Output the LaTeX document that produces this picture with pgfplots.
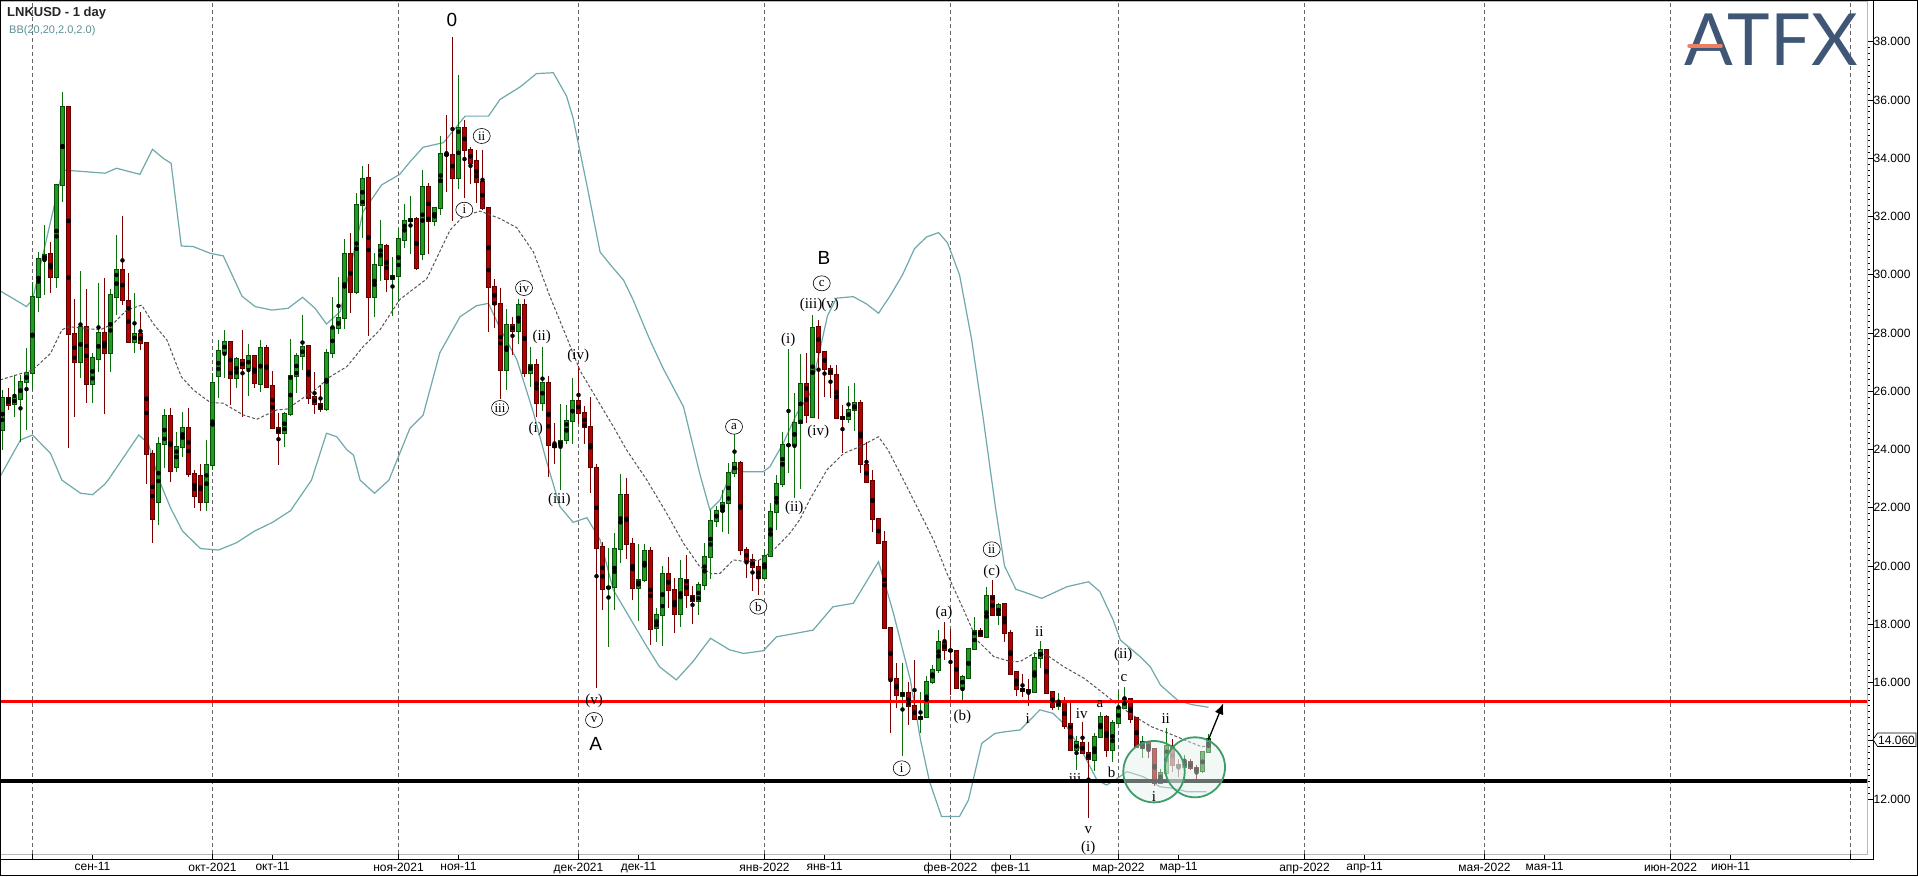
\documentclass[border=0pt]{standalone}
\usepackage{fontspec}
\setmainfont{Liberation Sans}
\newfontfamily\wavefont{Liberation Serif}
\newfontfamily\logofont{Lato}
\usepackage{pgfplots}
\usepackage{pgfplotstable}
\pgfplotsset{compat=1.18}
\usetikzlibrary{shapes.geometric,arrows.meta}

\definecolor{gfill}{HTML}{1E9E1E}
\definecolor{gline}{HTML}{0A4D0A}
\definecolor{gwick}{HTML}{0B6E0B}
\definecolor{rfill}{HTML}{B40000}
\definecolor{rline}{HTML}{5E0000}
\definecolor{rwick}{HTML}{7A0000}
\definecolor{bband}{HTML}{6FA9AC}
\definecolor{bmid}{HTML}{555555}
\definecolor{logoc}{HTML}{3F5676}
\definecolor{logoor}{HTML}{EE8062}
\definecolor{circ}{HTML}{3E9C68}

% day 0 = 1 Oct 2021; columns: open high low close
\pgfplotstableread{
d o h l c
-35 24.67 26.05 23.99 25.76
-33 25.57 26.56 25.13 25.76
-32 25.72 26.56 24.27 26.33
-31 26.33 27.48 24.67 26.62
-30 26.62 29.77 26.05 29.25
-29 29.25 30.80 28.74 30.53
-28 30.53 31.71 29.31 30.67
-26 29.94 33.10 29.54 33.07
-25 33.07 36.27 32.51 35.75
-22 27.02 30.14 26.45 28.20
-20 26.24 27.30 25.59 27.13
-19 27.10 29.71 26.68 27.99
-17 27.30 29.50 26.68 29.30
-16 29.25 31.37 28.62 30.15
-13 27.71 29.37 27.30 27.96
-9 22.20 24.44 21.40 24.18
-8 24.18 25.38 23.36 25.16
-6 23.41 24.62 23.24 24.08
-5 24.08 25.30 23.75 24.75
-1 22.20 24.33 21.90 23.46
0 23.46 26.62 23.30 26.27
1 26.54 27.76 25.78 27.39
2 27.36 28.11 26.47 27.68
4 26.47 27.19 26.10 27.10
6 26.79 27.61 25.85 27.21
8 26.24 27.76 25.99 27.48
12 24.56 25.30 24.10 25.21
13 25.21 27.79 25.15 26.53
14 26.53 27.30 25.95 27.21
15 27.21 28.62 26.73 27.51
19 25.38 27.44 25.34 27.30
20 27.30 29.23 27.16 28.16
21 28.16 29.91 27.96 28.51
22 28.51 31.22 28.13 30.70
24 29.40 32.80 29.35 32.39
25 32.39 33.74 31.25 33.28
27 29.25 30.76 28.56 30.33
28 30.33 31.87 29.80 31.01
30 29.85 30.60 28.60 29.97
31 29.97 31.60 29.08 31.22
32 31.21 32.43 30.93 31.85
33 31.85 32.69 30.70 31.90
35 30.70 33.61 30.52 33.03
37 31.85 32.34 31.67 32.31
38 32.31 34.77 32.05 34.15
41 33.34 36.87 32.96 35.04
49 26.72 28.82 26.03 28.27
51 28.07 29.17 27.63 28.97
53 26.64 27.51 26.15 26.92
55 25.60 27.53 25.34 26.27
58 24.14 25.57 22.62 24.31
59 24.34 25.54 24.19 24.98
60 24.98 26.45 24.19 25.66
66 19.23 20.61 17.23 19.29
67 19.29 21.12 18.49 20.57
68 20.57 23.15 20.12 22.44
71 19.23 20.75 18.12 19.52
72 19.52 20.75 19.46 20.53
74 17.86 18.55 17.40 18.32
75 18.32 20.00 17.25 19.72
78 18.34 20.21 17.92 19.54
81 18.80 19.46 18.32 19.35
82 19.35 20.78 19.18 20.30
83 20.30 21.92 19.56 21.55
84 21.55 22.06 21.35 21.89
85 21.89 22.61 21.18 22.18
86 22.18 23.55 21.09 23.18
87 23.18 24.79 23.07 23.55
92 19.58 20.57 19.54 20.34
93 20.34 22.18 20.32 21.84
94 21.84 23.13 21.24 22.82
95 22.82 24.62 22.72 24.16
96 24.14 27.44 23.21 24.16
97 24.14 25.93 22.33 24.90
98 24.90 27.28 22.63 26.24
100 25.13 28.62 25.07 28.16
106 25.04 26.18 24.92 25.36
107 25.36 26.27 24.62 25.59
115 15.54 16.68 13.47 15.65
118 14.74 15.69 14.26 14.83
119 14.80 16.24 14.79 16.01
120 16.01 16.60 15.95 16.43
121 16.43 17.80 16.32 17.38
125 15.82 16.26 15.29 16.20
126 16.17 17.17 16.14 17.15
127 17.15 18.26 17.12 17.77
129 17.57 19.29 17.52 18.97
131 18.32 18.74 17.97 18.66
137 15.66 17.06 15.63 16.83
138 16.83 17.44 16.49 17.12
141 15.19 15.63 15.06 15.34
144 13.68 14.16 13.00 13.95
147 13.34 14.26 12.97 14.12
148 14.12 15.00 14.08 14.83
150 13.68 14.71 13.28 14.62
151 14.60 15.72 14.57 15.14
152 15.14 15.83 15.08 15.43
155 13.74 14.16 13.40 13.95
158 12.54 13.02 12.52 12.88
159 12.88 14.43 12.82 13.82
162 13.11 13.52 13.11 13.26
165 12.96 13.65 12.88 13.60
166 13.60 14.22 13.58 14.06
}\upcandles

\pgfplotstableread{
d o h l c
-34 25.76 26.10 25.36 25.53
-27 30.72 31.14 29.37 29.94
-24 35.75 35.75 24.06 27.96
-23 27.97 29.17 25.13 27.02
-21 28.20 29.50 25.61 26.24
-18 27.99 29.88 25.21 27.30
-15 30.15 32.02 28.97 29.14
-14 29.10 30.05 27.65 27.68
-12 27.96 28.71 27.42 27.67
-11 27.65 27.71 22.80 23.84
-10 23.84 24.00 20.80 21.60
-7 25.16 25.44 22.90 23.26
-4 24.75 25.42 23.07 23.15
-3 23.15 23.30 22.00 22.40
-2 23.10 23.50 21.90 22.20
3 27.68 27.73 25.53 26.47
5 27.08 28.11 25.13 26.79
7 27.21 27.25 26.10 26.27
9 27.48 27.59 26.10 26.16
10 26.17 26.70 24.70 24.73
11 24.73 25.24 23.47 24.56
16 27.56 27.60 25.55 25.76
17 25.79 26.66 25.21 25.57
18 25.57 26.22 25.29 25.38
23 30.70 31.43 28.68 29.40
26 33.31 33.80 27.91 29.25
29 30.99 31.05 29.42 29.85
34 31.90 32.00 30.17 30.24
36 33.03 33.15 30.70 31.85
39 34.15 35.50 32.85 34.10
40 34.12 38.17 31.85 33.34
42 35.04 35.30 32.65 34.30
43 34.30 34.38 33.11 33.84
44 33.91 34.30 32.47 33.19
45 33.19 34.30 32.23 32.28
46 32.28 32.30 28.02 29.58
47 29.58 29.86 28.17 29.01
48 29.01 29.55 25.75 26.72
50 28.27 28.56 27.25 28.07
52 28.97 29.17 26.49 26.64
54 26.92 27.10 25.11 25.60
56 26.27 26.53 23.07 24.14
57 24.14 24.92 23.50 24.09
61 25.66 26.87 24.88 25.26
62 25.26 25.49 24.19 24.77
63 24.77 25.80 22.50 23.39
64 23.37 23.50 15.80 20.63
65 20.66 20.81 18.48 19.21
69 22.44 23.01 20.23 20.75
70 20.75 20.97 18.83 19.23
73 20.53 20.67 17.29 17.83
76 19.72 20.32 18.55 19.18
77 19.18 19.60 17.71 18.34
79 19.52 20.38 18.57 19.01
80 18.97 19.33 18.00 18.80
88 23.55 23.62 20.38 20.55
89 20.55 20.67 19.58 20.19
90 20.19 20.41 19.15 19.96
91 19.96 20.21 19.01 19.58
99 26.24 27.30 24.90 25.19
101 28.20 28.45 25.04 27.36
102 27.36 27.40 25.82 26.76
103 26.76 26.90 25.76 26.58
104 26.56 26.90 25.04 25.07
105 25.13 25.53 23.87 25.04
108 25.59 25.70 23.21 23.49
109 23.47 24.27 22.88 22.90
110 22.92 23.30 21.18 21.60
111 21.60 21.62 20.78 20.80
112 20.81 21.20 17.86 17.88
113 17.88 17.90 14.26 16.11
114 16.11 16.66 15.11 15.57
116 15.63 16.03 14.54 15.19
117 15.19 16.77 14.71 14.74
122 17.35 18.07 16.77 17.12
123 17.12 17.84 15.57 17.08
124 17.08 17.12 15.80 15.82
128 17.77 17.86 17.57 17.60
130 18.97 19.52 18.28 18.32
132 18.70 18.74 17.40 17.71
133 17.69 17.80 16.26 16.29
134 16.35 16.35 15.54 15.77
135 15.77 16.29 15.51 15.72
136 15.74 16.11 15.19 15.66
139 17.12 17.12 15.63 15.65
140 15.66 15.70 15.06 15.15
142 15.34 15.51 14.39 14.52
143 14.58 15.31 13.65 13.68
145 13.91 14.66 13.55 13.57
146 13.57 13.97 11.36 13.36
149 14.83 14.88 13.45 13.68
153 15.43 15.46 14.60 14.75
154 14.77 14.83 13.74 13.77
156 13.91 13.97 13.40 13.71
157 13.71 13.71 12.45 12.54
160 13.82 14.05 12.94 13.16
161 13.16 13.39 12.77 13.09
163 13.26 13.39 13.00 13.05
164 13.05 13.17 12.65 12.96
}\downcandles

% Bollinger bands
\pgfplotstableread{
d p
-35.4 29.45
-31 28.91
-30 29.14
-25 33.60
-17.9 33.49
-16 33.66
-12.1 33.45
-10 34.31
-8.2 34.00
-6.9 33.83
-5.2 30.99
-3.2 30.97
-0.4 30.74
1.8 30.65
4.9 29.27
7.1 28.91
9.9 28.79
12.6 28.85
15.0 29.23
17.1 28.85
19.0 28.31
21.3 28.74
25.1 32.17
28.2 33.09
31.2 33.45
33 33.90
35.1 34.38
38.5 34.54
42.1 35.45
46.0 35.45
47.9 36.02
51.25 36.45
54.0 36.91
56.8 36.94
59.0 36.14
60.1 35.38
62.4 33.08
64.6 30.78
66.5 30.30
68.5 29.82
70.1 29.14
72.9 27.76
75.1 26.79
78.5 25.47
81.2 23.18
82.9 21.92
84.6 22.27
86.8 23.41
88.5 23.24
91.8 23.24
92.9 23.41
95.1 24.21
97.4 25.24
99.6 25.93
101 27.2
102.5 28.6
104 29.2
106.8 29.25
109 29.0
111 28.68
113 29.3
115 30.0
117 30.9
119 31.3
121 31.45
122.5 31.1
124.5 30.0
126.5 27.8
128.5 25.0
130.5 22.0
132 20.0
133.9 19.2
135.1 19.12
138.2 18.89
142.4 19.29
146.0 19.46
147.9 19.12
150.1 18.15
151.3 17.46
154.6 16.89
156.3 16.54
158.0 15.91
160.8 15.40
163 15.25
166 15.15
}\bbupper

\pgfplotstableread{
d p
-35.4 26.39
-30 26.73
-27 27.30
-25.1 28.11
-24 28.22
-18.7 28.11
-16.5 28.33
-14.3 28.79
-11.8 28.96
-9.9 28.33
-7.6 27.76
-5.2 26.50
-3.2 26.05
-0.4 25.62
1.8 25.59
5.1 25.19
7.4 25.04
10.7 25.36
12.4 25.39
14.6 25.70
17.4 26.10
19.6 26.50
22.4 26.85
25.1 27.53
27.9 28.11
31.2 29.15
35.7 29.86
39.6 31.54
41.8 32.01
44.6 32.19
47.9 31.93
50.7 31.62
53.5 30.78
56.25 29.25
59.0 27.87
61.25 26.71
64.6 25.55
66.8 24.79
69.0 23.99
72.4 22.95
75.7 21.81
78.5 20.78
81.2 19.98
83.2 19.73
84.6 19.75
86.8 20.21
89.0 20.15
91.2 20.21
93.5 20.55
96.2 21.12
97.9 21.6
99.6 22.3
102.4 23.30
105.2 23.87
107.9 24.10
111.0 24.44
112.6 23.98
114.6 23.18
117.4 22.04
120.2 20.89
122.4 19.75
125.2 18.49
127.4 17.46
130.2 16.89
133.0 16.72
134.6 16.72
136.9 17.00
139.1 16.94
141.9 16.54
145.3 16.14
148.1 15.69
150.9 15.23
153.7 14.83
156.5 14.48
159.3 14.26
162.0 14.03
164.8 13.80
166.5 13.82
}\bbmid

\pgfplotstableread{
d p
-35.4 23.07
-32 24.33
-30 24.50
-27 23.87
-25.1 22.95
-22 22.5
-20 22.45
-18 22.8
-17.4 22.95
-12.3 24.50
-10.7 24.21
-9 23.0
-7 22.0
-5 21.2
-2 20.6
1 20.55
4 20.8
7 21.2
10 21.5
13 21.9
16.5 22.95
19.0 24.56
20.7 24.44
22.4 23.99
23.5 23.81
24.6 22.95
27 22.5
29.4 22.95
32.9 24.73
35.1 25.18
37.9 27.33
41.25 28.56
44.0 28.94
46.0 29.02
47.9 28.17
50.7 27.10
53.5 25.26
55.7 23.57
57.9 22.04
60.1 21.50
62.4 21.66
64.6 20.9
66.8 19.18
70.1 18.03
72.4 17.23
74.5 16.54
77.3 16.09
80 16.7
83.0 17.52
86.2 17.12
88.5 17.00
91.8 17.09
94.0 17.57
97.5 17.7
100.1 17.80
103.4 18.60
106.8 18.72
111.0 20.15
113.5 18.37
116.3 16.09
118.0 14.03
119.5 12.6
121.5 11.4
124.5 11.4
126.0 11.97
128.2 13.91
130.4 14.25
132.1 14.31
134.6 14.37
137.9 15.06
140.1 14.94
142.4 14.48
145.1 13.57
147.4 12.65
149.0 12.48
150.4 12.65
152.4 12.94
155.1 12.77
157.9 12.42
160.1 12.37
162.4 12.25
165.7 12.25
}\bblower

\newcommand{\wl}[3]{\node[font=\wavefont\fontsize{15}{15}\selectfont] at (#1,#2) {#3};}
\newcommand{\wc}[3]{\node[draw=black, fill=white, ellipse, line width=0.6pt, inner sep=0.5pt, minimum width=17pt, minimum height=15pt, font=\wavefont\fontsize{13}{13}\selectfont] at (#1,#2) {#3};}
\newcommand{\wb}[3]{\node[font=\fontsize{19}{19}\selectfont] at (#1,#2) {#3};}

\begin{document}
\begin{tikzpicture}
\useasboundingbox (0,0) rectangle (1918pt,876pt);
\fill[white] (0,0) rectangle (1918pt,876pt);
\begin{axis}[
  at={(0pt,22pt)}, anchor=south west,
  width=1867pt, height=852pt, scale only axis,
  xmin=-35.4167, xmax=275.75, ymin=10.1113, ymax=39.369,
  axis line style={draw=gray!55, line width=1pt},
  tick align=outside, xtick pos=bottom, ytick pos=right,
  major tick length=5.5pt, minor tick length=3pt,
  tick style={black, line width=0.8pt},
  xtick={-20,10,41,71,102,133,161,192,222,253},
  xticklabels={сен-11,окт-11,ноя-11,дек-11,янв-11,фев-11,мар-11,апр-11,мая-11,июн-11},
  extra x ticks={-30,0,31,61,92,123,151,182,212,243,273},
  extra x tick labels={,окт-2021,ноя-2021,дек-2021,янв-2022,фев-2022,мар-2022,апр-2022,мая-2022,июн-2022,},
  extra x tick style={grid=major, major grid style={dash pattern=on 4pt off 3pt, color=black!60, line width=0.9pt}},
  xticklabel style={font=\fontsize{12}{12}\selectfont, anchor=north, inner sep=0pt, yshift=-3pt},
  ytick={12,14,...,38},
  yticklabels={12.000,,16.000,18.000,20.000,22.000,24.000,26.000,28.000,30.000,32.000,34.000,36.000,38.000},
  minor y tick num=9,
  yticklabel pos=right,
  yticklabel style={font=\fontsize{12}{12}\selectfont, anchor=west, inner sep=0pt, xshift=1pt},
]
% bands
\addplot[bband, line width=1.2pt] table[x=d,y=p] {\bbupper};
\addplot[bband, line width=1.2pt] table[x=d,y=p] {\bblower};
% wicks
\addplot[only marks, mark=none, error bars/.cd, y dir=both, y explicit, error mark=none,
  error bar style={line width=1pt, draw=gwick}]
  table[x=d, y expr={(\thisrow{h}+\thisrow{l})/2}, y error expr={(\thisrow{h}-\thisrow{l})/2}] {\upcandles};
\addplot[only marks, mark=none, error bars/.cd, y dir=both, y explicit, error mark=none,
  error bar style={line width=1pt, draw=rwick}]
  table[x=d, y expr={(\thisrow{h}+\thisrow{l})/2}, y error expr={(\thisrow{h}-\thisrow{l})/2}] {\downcandles};
% bodies: outline then fill
\addplot[only marks, mark=none, error bars/.cd, y dir=both, y explicit, error mark=none,
  error bar style={line width=5pt, draw=gline}]
  table[x=d, y expr={(\thisrow{o}+\thisrow{c})/2}, y error expr={abs(\thisrow{c}-\thisrow{o})/2+0.035}] {\upcandles};
\addplot[only marks, mark=none, error bars/.cd, y dir=both, y explicit, error mark=none,
  error bar style={line width=3pt, draw=gfill}]
  table[x=d, y expr={(\thisrow{o}+\thisrow{c})/2}, y error expr={abs(\thisrow{c}-\thisrow{o})/2}] {\upcandles};
\addplot[only marks, mark=none, error bars/.cd, y dir=both, y explicit, error mark=none,
  error bar style={line width=5pt, draw=rline}]
  table[x=d, y expr={(\thisrow{o}+\thisrow{c})/2}, y error expr={abs(\thisrow{c}-\thisrow{o})/2+0.035}] {\downcandles};
\addplot[only marks, mark=none, error bars/.cd, y dir=both, y explicit, error mark=none,
  error bar style={line width=3pt, draw=rfill}]
  table[x=d, y expr={(\thisrow{o}+\thisrow{c})/2}, y error expr={abs(\thisrow{c}-\thisrow{o})/2}] {\downcandles};
% middle band
\addplot[bmid, line width=1pt, dash pattern=on 3pt off 2pt] table[x=d,y=p] {\bbmid};
% support / resistance
\addplot[red, line width=3.3pt] coordinates {(-36,15.34) (276,15.34)};
\addplot[black, line width=3.3pt] coordinates {(-36,12.62) (276,12.62)};
\end{axis}

\begin{scope}[x=1pt, y=-1pt, shift={(0pt,876pt)}]
% frame
\draw[black, line width=1pt] (1873,0) -- (1873,859) -- (0,859);
\draw[black, line width=2pt] (0,0) -- (0,876);
\draw[black, line width=2pt] (0,0) -- (1918,0);
\draw[black, line width=1.5pt] (0,875.3) -- (1917.3,875.3) -- (1917.3,0);
% last price tag
\draw[black, fill=white, line width=0.7pt] (1873,739.5) -- (1877.5,733) -- (1916,733) -- (1916,746.5) -- (1877.5,746.5) -- cycle;
\node[font=\fontsize{12}{12}\selectfont, inner sep=0pt] at (1896.5,740) {14.060};
% title
\node[anchor=west, font=\bfseries\fontsize{13}{13}\selectfont, text=black!85, inner sep=0pt] at (7,13.5) {LNKUSD - 1 day};
\node[anchor=west, font=\fontsize{11}{11}\selectfont, text=bband!85!black, inner sep=0pt] at (9,31) {BB(20,20,2.0,2.0)};
% logo
\node[anchor=west, font=\logofont\fontsize{72}{72}\selectfont, text=logoc, inner sep=0pt] at (1684,40) {ATFX};
\draw[logoor, line width=3.5pt, line cap=round] (1689,46) -- (1721,46);
% target circles
\fill[circ!14, fill opacity=0.45] (1154,771.7) circle (30.7);
\fill[circ!14, fill opacity=0.45] (1195,767.3) circle (30);
\draw[circ, line width=1.8pt] (1154,771.7) circle (30.7);
\draw[circ, line width=1.8pt] (1195,767.3) circle (30);
\draw[black, line width=1.3pt, -{Latex[length=11pt, width=9pt]}] (1208.3,740) -- (1223.3,703.3);
% wave labels
\wb{452}{20}{0}
\wc{481.7}{136}{ii}
\wc{464.3}{209.7}{i}
\wc{524}{288}{iv}
\wc{500}{408}{iii}
\wl{541.7}{337}{(ii)}
\wl{535.7}{428.5}{(i)}
\wl{578.3}{355.7}{(iv)}
\wl{559.3}{500}{(iii)}
\wl{594}{701}{(v)}
\wc{594}{720}{v}
\wb{595.6}{744}{A}
\wc{734}{426.7}{a}
\wc{758.3}{606.7}{b}
\wl{788.3}{340}{(i)}
\wl{794.3}{508.3}{(ii)}
\wl{811}{305}{(iii)}
\wl{830}{305}{(v)}
\wc{821.7}{283.3}{c}
\wb{824}{258}{B}
\wl{818.3}{431.7}{(iv)}
\wc{901.7}{768.3}{i}
\wl{944}{612.7}{(a)}
\wl{962.3}{716.7}{(b)}
\wc{991.7}{549.3}{ii}
\wl{991.7}{571.7}{(c)}
\wl{1039.3}{631.7}{ii}
\wl{1027.7}{718.3}{i}
\wl{1081.7}{713.3}{iv}
\wl{1100}{704}{a}
\wl{1075}{778.3}{iii}
\wl{1088.3}{830}{v}
\wl{1088.3}{848}{(i)}
\wl{1123.3}{655}{(ii)}
\wl{1124}{678.3}{c}
\wl{1111.7}{772.3}{b}
\wl{1165.7}{718.3}{ii}
\wl{1154}{796.7}{i}
\end{scope}
\end{tikzpicture}
\end{document}
